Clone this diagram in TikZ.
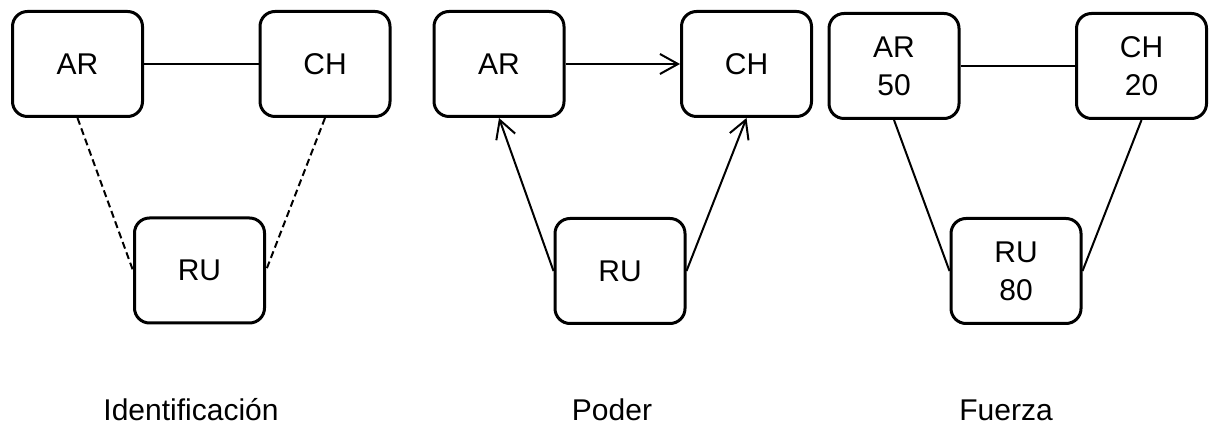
\documentclass[tikz,border=0pt]{standalone}
\usepackage{fontspec}
\setmainfont{Liberation Sans}
\usetikzlibrary{arrows.meta,positioning}

\begin{document}
\begin{tikzpicture}[x=0.5pt,y=-0.5pt,>={Straight Barb[length=9pt,width=10pt]},
  node distance=123.75pt,
  box node/.style={rectangle,rounded corners=7.5pt,draw,line width=1.5pt,
    minimum width=65pt,minimum height=52.5pt,align=center,
    font=\fontsize{15}{19}\selectfont},
  caption/.style={anchor=base,font=\fontsize{15}{18}\selectfont}]

  \useasboundingbox (0,0) rectangle (1218,426);

  % Identificacion
  \node[box node] (ar1) at (77.5,64) {AR};
  \node[box node] (ch1) [right of=ar1] {CH};
  \node[box node] (ru1) at (199.5,270.5) {RU};
  \node[caption] (id) at (191,420) {Identificación};

  % Poder
  \node[box node] (ar2) at (499,64) {AR};
  \node[box node] (ch2) [right of=ar2] {CH};
  \node[box node] (ru2) at (620,271) {RU};
  \node[caption] (po) at (612,420) {Poder};

  % Fuerza
  \node[box node] (ar3) at (894,66) {AR\\50};
  \node[box node] (ch3) [right of=ar3] {CH\\20};
  \node[box node] (ru3) at (1016,271) {RU\\80};
  \node[caption] (fu) at (1006,420) {Fuerza};

  \path[line width=1pt]
    (ar1) edge (ch1)
    (ar1.south) edge [dash pattern=on 3.5pt off 2pt] (ru1.west)
    (ch1.south) edge [dash pattern=on 3.5pt off 2pt] (ru1.east)
    (ar2) edge [->] (ch2)
    (ru2.west) edge [->] (ar2.south)
    (ru2.east) edge [->] (ch2.south)
    (ar3) edge (ch3)
    (ar3.south) edge (ru3.west)
    (ch3.south) edge (ru3.east);
\end{tikzpicture}
\end{document}
